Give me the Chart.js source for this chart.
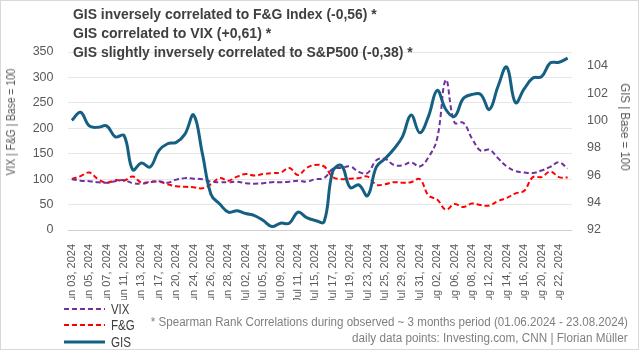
<!DOCTYPE html>
<html>
<head>
<meta charset="utf-8">
<script src="https://cdn.jsdelivr.net/npm/chart.js@4.4.1/dist/chart.umd.min.js"></script>
<style>
  body { margin: 0; background: #fff; }
  #wrap { position: relative; width: 640px; height: 351px; overflow: hidden; font-family: "Liberation Sans", Arial, sans-serif; }
  #frame { position: absolute; left: 0; top: 0; width: 637px; height: 348px; border: 1px solid #d9d9d9; pointer-events: none; }
  .txt { position: absolute; white-space: nowrap; }
  .title { left: 73px; font-size: 14px; font-weight: bold; color: #404040; transform-origin: left center; line-height: 19px; }
  .note { right: 12px; font-size: 12px; color: #7f7f7f; transform-origin: right center; line-height: 16px; }
  .axt { font-size: 12.5px; color: #595959; line-height: 14px; }
  .leg { position: absolute; left: 64px; height: 16px; }
  .leg svg { position: absolute; left: 0; top: 0; }
  .leg span { position: absolute; left: 47px; top: -1px; font-size: 14px; color: #404040; white-space: nowrap; transform-origin: left center; line-height: 18px; }
</style>
</head>
<body>
<div id="wrap">
  <canvas id="chart" width="640" height="351"></canvas>
  <div class="txt title" style="top:5px" data-w="304">GIS inversely correlated to F&amp;G Index (-0,56) *</div>
  <div class="txt title" style="top:24px" data-w="198">GIS correlated to VIX (+0,61) *</div>
  <div class="txt title" style="top:43px" data-w="340">GIS slightly inversely correlated to S&amp;P500 (-0,38) *</div>
  <div class="txt axt" style="left:11px; top:121.5px" data-w="107" data-pre="translate(-50%,-50%) rotate(-90deg)">VIX | F&amp;G | Base = 100</div>
  <div class="txt axt" style="left:625px; top:126.5px" data-w="87" data-pre="translate(-50%,-50%) rotate(90deg)">GIS | Base = 100</div>
  <div class="txt note" style="top:313.5px" data-w="477">* Spearman Rank Correlations during observed ~ 3 months period (01.06.2024 - 23.08.2024)</div>
  <div class="txt note" style="top:330px" data-w="276">daily data points: Investing.com, CNN | Florian Müller</div>
  <div id="legend"></div>
  <div id="frame"></div>
</div>
<script>
// trading days, 03.06.2024 - 23.08.2024
const dates = [
  'Jun 03, 2024', 'Jun 04, 2024', 'Jun 05, 2024', 'Jun 06, 2024', 'Jun 07, 2024', 'Jun 10, 2024',
  'Jun 11, 2024', 'Jun 12, 2024', 'Jun 13, 2024', 'Jun 14, 2024', 'Jun 17, 2024', 'Jun 18, 2024',
  'Jun 20, 2024', 'Jun 21, 2024', 'Jun 24, 2024', 'Jun 25, 2024', 'Jun 26, 2024', 'Jun 27, 2024',
  'Jun 28, 2024', 'Jul 01, 2024', 'Jul 02, 2024', 'Jul 03, 2024', 'Jul 05, 2024', 'Jul 08, 2024',
  'Jul 09, 2024', 'Jul 10, 2024', 'Jul 11, 2024', 'Jul 12, 2024', 'Jul 15, 2024', 'Jul 16, 2024',
  'Jul 17, 2024', 'Jul 18, 2024', 'Jul 19, 2024', 'Jul 22, 2024', 'Jul 23, 2024', 'Jul 24, 2024',
  'Jul 25, 2024', 'Jul 26, 2024', 'Jul 29, 2024', 'Jul 30, 2024', 'Jul 31, 2024', 'Aug 01, 2024',
  'Aug 02, 2024', 'Aug 05, 2024', 'Aug 06, 2024', 'Aug 07, 2024', 'Aug 08, 2024', 'Aug 09, 2024',
  'Aug 12, 2024', 'Aug 13, 2024', 'Aug 14, 2024', 'Aug 15, 2024', 'Aug 16, 2024', 'Aug 19, 2024',
  'Aug 20, 2024', 'Aug 21, 2024', 'Aug 22, 2024', 'Aug 23, 2024'
];

// indexed, base = 100
const vix = [
  100, 97, 96, 94, 93, 96, 98, 92, 91, 94, 96, 93, 99, 102, 101, 100, 95, 94, 94, 95,
  92, 91, 92, 94, 94, 95, 97, 95, 100, 102, 120, 122, 125, 114, 112, 137, 140, 128, 127, 133,
  125, 143, 180, 295, 211, 211, 180, 156, 158, 141, 125, 116, 113, 112, 117, 124, 133, 121
];
const fearGreed = [
  100, 106, 113, 100, 93, 98, 97, 105, 93, 95, 95, 90, 86, 85, 84, 82, 90, 102, 97, 105,
  110, 107, 110, 112, 113, 122, 108, 122, 128, 125, 104, 100, 101, 102, 105, 89, 90, 94, 93, 94,
  100, 68, 60, 40, 51, 45, 52, 49, 48, 57, 63, 72, 77, 104, 104, 115, 104, 103
];
const gis = [
  100.0, 100.6, 99.6, 99.5, 99.6, 98.8, 98.9, 96.4, 96.9, 96.6, 97.8, 98.3, 98.4, 99.0, 100.4, 97.6,
  94.6, 93.9, 93.3, 93.4, 93.2, 93.05, 92.7, 92.25, 92.5, 92.5, 93.3, 92.9, 92.7, 92.6, 96.3, 96.7,
  95.1, 95.3, 94.5, 96.6, 97.2, 97.9, 98.8, 100.4, 99.1, 100.3, 102.2, 100.8, 100.3, 101.6, 101.9, 101.9,
  100.8, 102.5, 103.9, 101.3, 102.3, 103.1, 103.2, 104.2, 104.25, 104.55
];
const gisTicks = [92, 94, 96, 98, 100, 102, 104];

const fontFamily = '"Liberation Sans", Arial, sans-serif';
const tickColor = '#595959';

const datasets = [
  { label: 'VIX', data: vix, yAxisID: 'y', borderColor: '#7030A0', borderWidth: 2, borderDash: [5, 3], order: 1 },
  { label: 'F&G', data: fearGreed, yAxisID: 'y', borderColor: '#FF0000', borderWidth: 2, borderDash: [5, 3], order: 2 },
  { label: 'GIS', data: gis, yAxisID: 'y1', borderColor: '#156082', borderWidth: 3, order: 0 }
];
datasets.forEach(d => {
  d.pointRadius = 0;
  d.tension = 0.4;
  d.fill = false;
});

const ctx = document.getElementById('chart');
new Chart(ctx, {
  type: 'line',
  data: { labels: dates, datasets: datasets },
  options: {
    responsive: false,
    animation: false,
    layout: { padding: { top: 52, bottom: 51, left: 0, right: 0 } },
    plugins: {
      legend: { display: false },
      title: { display: false },
      tooltip: { enabled: false }
    },
    scales: {
      x: {
        offset: true,
        grid: { display: false },
        border: { display: false },
        ticks: {
          autoSkip: false,
          minRotation: 90,
          maxRotation: 90,
          padding: 6,
          color: tickColor,
          font: { family: fontFamily, size: 11 },
          callback: function (value, index) {
            return index % 2 === 0 ? this.getLabelForValue(value) : '';
          }
        },
        afterFit: scale => { scale.height = 70; }
      },
      y: {
        position: 'left',
        min: 0,
        max: 350,
        grid: {
          drawTicks: false,
          color: c => (c.tick && c.tick.value === 0 ? '#d0d0d0' : '#e6e6e6')
        },
        border: { display: false },
        ticks: { stepSize: 50, padding: 14, color: tickColor, font: { family: fontFamily, size: 12.5 } },
        afterFit: scale => { scale.width = 67.5; }
      },
      y1: {
        position: 'right',
        min: 92,
        max: 105,
        grid: { display: false, drawTicks: false },
        border: { display: false },
        afterBuildTicks: scale => { scale.ticks = gisTicks.map(v => ({ value: v })); },
        ticks: { padding: 15, color: tickColor, font: { family: fontFamily, size: 12.5 } },
        afterFit: scale => { scale.width = 68; }
      }
    }
  }
});

// legend below the chart, stacked
const legend = document.getElementById('legend');
const rowY = [301.3, 317, 333.7];
datasets.forEach((d, i) => {
  const row = document.createElement('div');
  row.className = 'leg';
  row.style.top = rowY[i] + 'px';
  const dash = d.borderDash ? d.borderDash.join(',') : 'none';
  row.innerHTML =
    '<svg width="41" height="16"><line x1="0" y1="8" x2="41" y2="8" stroke="' + d.borderColor +
    '" stroke-width="' + d.borderWidth + '" stroke-dasharray="' + dash + '"/></svg>' +
    '<span data-w="' + [18.7, 24, 20][i] + '"></span>';
  row.querySelector('span').textContent = d.label;
  legend.appendChild(row);
});

// squeeze text to the narrow widths of the original
document.querySelectorAll('[data-w]').forEach(el => {
  const k = parseFloat(el.dataset.w) / el.offsetWidth;
  el.style.transform = (el.dataset.pre || '') + ' scaleX(' + k.toFixed(3) + ')';
});
</script>
</body>
</html>
